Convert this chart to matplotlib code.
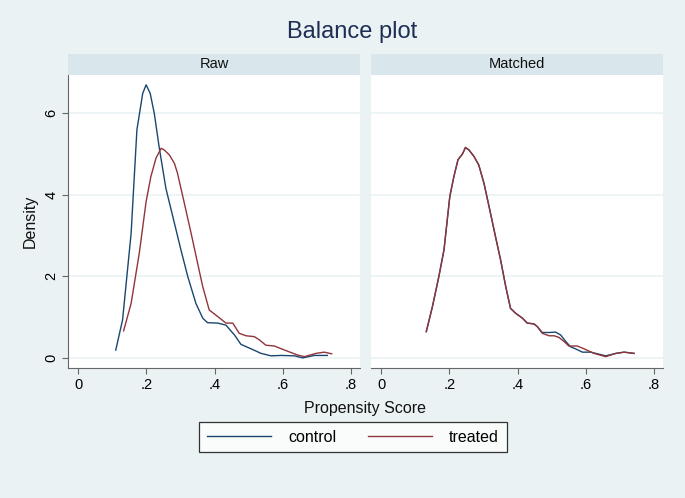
import matplotlib
matplotlib.use("Agg")
import matplotlib.pyplot as plt
from matplotlib.lines import Line2D

plt.rcParams['font.family'] = ['Liberation Sans', 'DejaVu Sans']

# ---- data ----
raw_control_x = [0.110, 0.130, 0.155, 0.172, 0.189, 0.199, 0.211, 0.223, 0.237, 0.257, 0.282,
                 0.301, 0.321, 0.345, 0.365, 0.379, 0.409, 0.433, 0.458, 0.477, 0.507, 0.536,
                 0.565, 0.595, 0.634, 0.658, 0.692, 0.730]
raw_control_y = [0.20, 0.94, 3.05, 5.58, 6.47, 6.68, 6.47, 5.98, 5.17, 4.15, 3.30,
                 2.65, 2.00, 1.34, 0.98, 0.87, 0.86, 0.81, 0.57, 0.34, 0.23, 0.12,
                 0.06, 0.07, 0.06, 0.01, 0.07, 0.07]

raw_treated_x = [0.133, 0.155, 0.179, 0.199, 0.213, 0.228, 0.243, 0.252, 0.267, 0.282, 0.291,
                 0.311, 0.331, 0.350, 0.365, 0.384, 0.409, 0.433, 0.453, 0.472, 0.492, 0.516,
                 0.531, 0.550, 0.575, 0.599, 0.624, 0.643, 0.663, 0.697, 0.721, 0.743]
raw_treated_y = [0.67, 1.34, 2.57, 3.83, 4.44, 4.89, 5.13, 5.09, 4.97, 4.76, 4.52,
                 3.79, 3.05, 2.32, 1.75, 1.18, 1.02, 0.86, 0.86, 0.61, 0.55, 0.53,
                 0.45, 0.32, 0.30, 0.22, 0.14, 0.08, 0.04, 0.12, 0.15, 0.11]

matched_treated_x = [0.132, 0.150, 0.169, 0.184, 0.201, 0.213, 0.225, 0.238, 0.247, 0.257, 0.272,
                     0.286, 0.301, 0.316, 0.335, 0.350, 0.365, 0.379, 0.394, 0.414, 0.428, 0.448,
                     0.458, 0.472, 0.492, 0.507, 0.521, 0.536, 0.550, 0.575, 0.595, 0.624,
                     0.658, 0.688, 0.712, 0.741]
matched_treated_y = [0.65, 1.26, 2.00, 2.65, 3.95, 4.44, 4.85, 4.99, 5.15, 5.09, 4.93,
                     4.72, 4.28, 3.71, 2.97, 2.40, 1.75, 1.22, 1.10, 0.98, 0.86, 0.84,
                     0.77, 0.61, 0.55, 0.55, 0.51, 0.41, 0.30, 0.30, 0.23, 0.12,
                     0.04, 0.12, 0.15, 0.12]

matched_control_x = [0.132, 0.150, 0.169, 0.184, 0.201, 0.213, 0.225, 0.238, 0.247, 0.257, 0.272,
                     0.286, 0.301, 0.316, 0.335, 0.350, 0.365, 0.379, 0.394, 0.414, 0.428, 0.448,
                     0.458, 0.472, 0.492, 0.511, 0.526, 0.541, 0.555, 0.570, 0.590, 0.614,
                     0.634, 0.658, 0.688, 0.712, 0.741]
matched_control_y = [0.65, 1.26, 2.00, 2.65, 3.95, 4.44, 4.85, 4.99, 5.15, 5.09, 4.93,
                     4.72, 4.28, 3.71, 2.97, 2.40, 1.75, 1.22, 1.10, 0.98, 0.86, 0.84,
                     0.77, 0.63, 0.63, 0.64, 0.57, 0.41, 0.28, 0.23, 0.15, 0.15,
                     0.11, 0.06, 0.12, 0.15, 0.12]

panel_titles = ["Raw", "Matched"]
series_labels = ["control", "treated"]
x_ticks = [0, 0.2, 0.4, 0.6, 0.8]
x_tick_labels = ["0", ".2", ".4", ".6", ".8"]
y_ticks = [0, 2, 4, 6]
y_tick_labels = ["0", "2", "4", "6"]

# ---- style ----
BG = "#EAF2F3"
STRIP = "#D9E6EB"
GRID = "#EAF2F3"
C_CONTROL = "#1A476F"
C_TREATED = "#90353B"
AXC = "#666666"

W, H = 685, 498
fig = plt.figure(figsize=(W / 100, H / 100), dpi=100, facecolor=BG)


def fx(px):
    return px / W


def fy(py):
    return 1 - py / H


panel_left = [68, 371]
panel_w = 292
plot_top, plot_bot = 75, 368
strip_top = 54

data = [
    [(raw_control_x, raw_control_y), (raw_treated_x, raw_treated_y)],
    [(matched_control_x, matched_control_y), (matched_treated_x, matched_treated_y)],
]

for i, pl in enumerate(panel_left):
    ax = fig.add_axes([fx(pl), fy(plot_bot), fx(panel_w), (plot_bot - plot_top) / H])
    ax.set_facecolor("white")
    ax.set_xlim(-0.030, 0.826)
    ax.set_ylim(-0.237, 6.92)
    for s in ["top", "right"]:
        ax.spines[s].set_visible(False)
    ax.spines["bottom"].set_color(AXC)
    ax.spines["bottom"].set_linewidth(0.8)
    if i == 0:
        ax.spines["left"].set_color(AXC)
        ax.spines["left"].set_linewidth(0.8)
    else:
        ax.spines["left"].set_visible(False)
    ax.set_yticks(y_ticks)
    ax.grid(axis="y", color=GRID, linewidth=1.2)
    ax.set_axisbelow(True)
    ax.set_xticks(x_ticks)
    ax.set_xticklabels(x_tick_labels, fontsize=10.5)
    ax.tick_params(axis="x", length=4, width=0.8, color=AXC, pad=3)
    if i == 0:
        ax.set_yticklabels(y_tick_labels, fontsize=10.5, rotation=90, va="center")
        ax.tick_params(axis="y", length=4, width=0.8, color=AXC, pad=3)
    else:
        ax.tick_params(axis="y", length=0, labelleft=False)
    (cx, cy), (tx, ty) = data[i]
    ax.plot(cx, cy, color=C_CONTROL, lw=1.0)
    ax.plot(tx, ty, color=C_TREATED, lw=1.0)

    sax = fig.add_axes([fx(pl), fy(plot_top), fx(panel_w), (plot_top - strip_top) / H])
    sax.set_facecolor(STRIP)
    sax.set_xticks([])
    sax.set_yticks([])
    for s in sax.spines.values():
        s.set_visible(False)
    sax.text(0.5, 0.5, panel_titles[i], ha="center", va="center", fontsize=10.5,
             color="#111111", transform=sax.transAxes)

fig.text(fx(352), fy(32), "Balance plot", ha="center", va="center", fontsize=17,
         color="#1E2E55")
fig.text(fx(30), fy(221), "Density", ha="center", va="center", rotation=90,
         fontsize=11.5, color="#111111")
fig.text(fx(365), fy(408), "Propensity Score", ha="center", va="center",
         fontsize=11.5, color="#111111")

handles = [Line2D([], [], color=C_CONTROL, lw=1.0), Line2D([], [], color=C_TREATED, lw=1.0)]
leg = fig.legend(handles, series_labels, loc="center", bbox_to_anchor=(fx(353), fy(437)),
                 ncol=2, fontsize=11.5, frameon=True, fancybox=False, handlelength=4.0,
                 columnspacing=2.0, handletextpad=1.05, borderpad=0.5, borderaxespad=0)
leg.get_frame().set_edgecolor("black")
leg.get_frame().set_linewidth(0.9)
leg.get_frame().set_facecolor("white")

fig.savefig("out.png", dpi=100, facecolor=BG)
